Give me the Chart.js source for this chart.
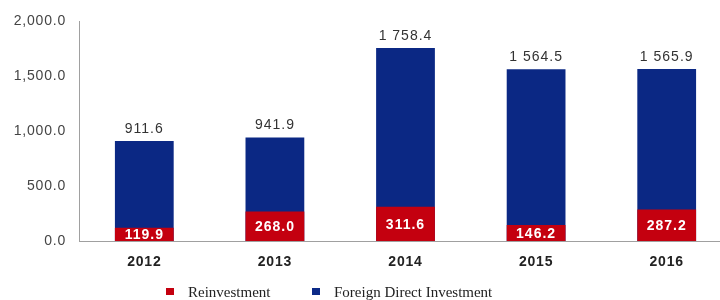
<!DOCTYPE html>
<html>
<head>
<meta charset="utf-8">
<script src="https://cdn.jsdelivr.net/npm/chart.js@4"></script>
<style>
    body { margin: 0; background: #fff; overflow: hidden; }
    .wrap { position: relative; width: 732px; height: 300px; }
    .legend { position: absolute; top: 284px; left: 0; font-family: "Liberation Serif", "Times New Roman", serif; font-size: 15px; color: #222; }
    .legend span.item { position: absolute; white-space: nowrap; }
    .legend i { display: inline-block; width: 8px; height: 7px; margin-right: 14px; vertical-align: 2px; }
</style>
</head>
<body>
<div class="wrap">
    <canvas id="fdiChart"></canvas>
    <div class="legend">
        <span class="item" style="left:166px"><i style="background:#c4000f"></i>Reinvestment</span>
        <span class="item" style="left:312px"><i style="background:#0c2a87"></i>Foreign Direct Investment</span>
    </div>
</div>
<script>
// Chart data
const years = ['2012', '2013', '2014', '2015', '2016'];
const reinvestment = [119.9, 268.0, 311.6, 146.2, 287.2];
const fdiTotal = [911.6, 941.9, 1758.4, 1564.5, 1565.9];
const yTicks = [0, 500, 1000, 1500, 2000];

// number with space as thousands separator, e.g. 1 758.4
function spaced(v) {
    const parts = v.toFixed(1).split('.');
    return parts[0].replace(/\B(?=(\d{3})+(?!\d))/g, ' ') + '.' + parts[1];
}

// wider letter spacing, the source text is a bit stretched
const spacing = {
    id: 'spacing',
    beforeDraw(chart) {
        chart.ctx.letterSpacing = '0.8px';
    }
};

// Value labels on the bars
const barLabels = {
    id: 'barLabels',
    afterDatasetsDraw(chart) {
        const ctx = chart.ctx;
        ctx.save();
        ctx.letterSpacing = '1px';
        ctx.textAlign = 'center';
        ctx.textBaseline = 'middle';

        const blue = chart.getDatasetMeta(1);
        ctx.font = '14px "Liberation Sans", Arial, sans-serif';
        ctx.fillStyle = '#333';
        blue.data.forEach((bar, i) => {
            ctx.fillText(spaced(fdiTotal[i]), bar.x, bar.y - 12);
        });

        const red = chart.getDatasetMeta(0);
        ctx.font = 'bold 14px "Liberation Sans", Arial, sans-serif';
        ctx.fillStyle = '#fff';
        red.data.forEach((bar, i) => {
            ctx.fillText(spaced(reinvestment[i]), bar.x, (bar.y + bar.base) / 2 + 1);
        });
        ctx.restore();
    }
};

const ctx = document.getElementById('fdiChart').getContext('2d');
new Chart(ctx, {
    type: 'bar',
    data: {
        labels: years,
        datasets: [{
            label: 'Reinvestment',
            data: reinvestment,
            backgroundColor: '#c4000f',
            order: 0
        }, {
            label: 'Foreign Direct Investment',
            data: fdiTotal,
            backgroundColor: '#0b2884',
            order: 1
        }]
    },
    options: {
        responsive: true,
        maintainAspectRatio: false,
        animation: false,
        barPercentage: 0.45,
        categoryPercentage: 1.0,
        layout: {
            padding: { top: 18, right: 0, bottom: 0, left: 0 }
        },
        plugins: {
            legend: { display: false },
            tooltip: { enabled: false }
        },
        scales: {
            x: {
                stacked: true,
                grid: { display: false, drawTicks: false },
                border: { display: true, color: '#a0a0a0', width: 1 },
                ticks: {
                    padding: 13,
                    color: '#222',
                    font: { family: '"Liberation Sans", Arial, sans-serif', size: 14, weight: 'bold' }
                },
                afterFit(scale) { scale.height = 59; }
            },
            y: {
                stacked: false,
                min: 0,
                max: 2000,
                afterBuildTicks(scale) {
                    scale.ticks = yTicks.map(v => ({ value: v }));
                },
                grid: { display: false, drawTicks: false },
                border: { display: true, color: '#a0a0a0', width: 1 },
                ticks: {
                    padding: 13,
                    color: '#444',
                    font: { family: '"Liberation Sans", Arial, sans-serif', size: 14 },
                    callback: v => v.toLocaleString('en-US', { minimumFractionDigits: 1, maximumFractionDigits: 1 })
                },
                afterFit(scale) { scale.width = 79; }
            }
        }
    },
    plugins: [spacing, barLabels]
});
</script>
</body>
</html>
